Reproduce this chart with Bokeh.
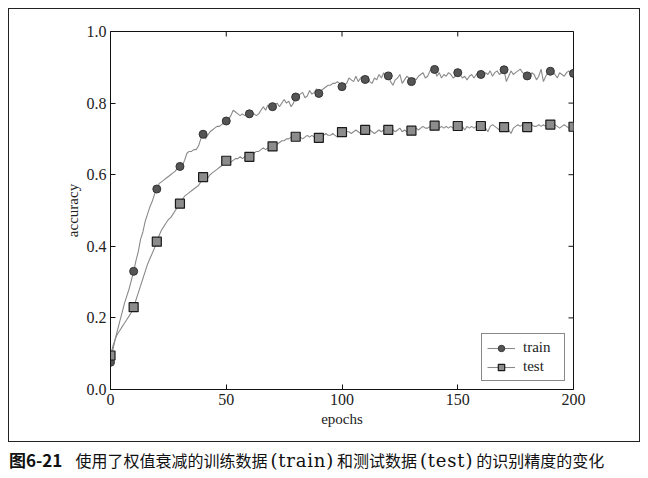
import math
from bokeh.plotting import figure
from bokeh.models import (Range1d, FixedTicker, PrintfTickFormatter,
                          Legend, LegendItem, Div)
from bokeh.layouts import column
from bokeh.embed import file_html
from bokeh.resources import INLINE

# ---------------- data ----------------
epochs = list(range(201))

train_acc = [
    0.076, 0.11, 0.14, 0.165, 0.19, 0.215, 0.24, 0.26, 0.28, 0.305,
    0.330, 0.36, 0.385, 0.42, 0.44, 0.47, 0.49, 0.51, 0.525, 0.545,
    0.560, 0.575, 0.58, 0.585, 0.59, 0.595, 0.60, 0.605, 0.61, 0.62,
    0.623, 0.625, 0.64, 0.66, 0.665, 0.665, 0.67, 0.67, 0.68, 0.70,
    0.713, 0.70, 0.71, 0.72, 0.725, 0.73, 0.735, 0.735, 0.74, 0.745,
    0.750, 0.755, 0.765, 0.78, 0.775, 0.77, 0.765, 0.77, 0.765, 0.77,
    0.770, 0.775, 0.77, 0.765, 0.77, 0.78, 0.79, 0.78, 0.795, 0.785,
    0.790, 0.795, 0.80, 0.79, 0.80, 0.81, 0.80, 0.805, 0.79, 0.80,
    0.817, 0.82, 0.825, 0.83, 0.815, 0.82, 0.835, 0.825, 0.83, 0.84,
    0.827, 0.835, 0.84, 0.845, 0.85, 0.85, 0.855, 0.855, 0.86, 0.855,
    0.846, 0.85, 0.855, 0.87, 0.865, 0.86, 0.875, 0.86, 0.87, 0.875,
    0.866, 0.875, 0.86, 0.855, 0.87, 0.865, 0.88, 0.87, 0.885, 0.87,
    0.876, 0.86, 0.85, 0.865, 0.87, 0.88, 0.855, 0.865, 0.875, 0.87,
    0.860, 0.87, 0.865, 0.875, 0.88, 0.885, 0.87, 0.875, 0.89, 0.895,
    0.894, 0.875, 0.885, 0.87, 0.88, 0.875, 0.885, 0.88, 0.87, 0.875,
    0.885, 0.88, 0.87, 0.875, 0.865, 0.875, 0.88, 0.87, 0.88, 0.885,
    0.880, 0.875, 0.885, 0.88, 0.89, 0.875, 0.885, 0.89, 0.88, 0.885,
    0.893, 0.86, 0.875, 0.89, 0.88, 0.885, 0.89, 0.895, 0.885, 0.88,
    0.876, 0.87, 0.885, 0.88, 0.865, 0.875, 0.895, 0.86, 0.875, 0.885,
    0.889, 0.89, 0.88, 0.87, 0.885, 0.88, 0.875, 0.885, 0.89, 0.88,
    0.883,
]

test_acc = [
    0.095, 0.12, 0.14, 0.155, 0.165, 0.175, 0.185, 0.195, 0.205, 0.215,
    0.230, 0.25, 0.27, 0.29, 0.31, 0.33, 0.35, 0.365, 0.38, 0.395,
    0.413, 0.43, 0.445, 0.455, 0.465, 0.475, 0.48, 0.49, 0.50, 0.51,
    0.519, 0.53, 0.54, 0.545, 0.55, 0.555, 0.56, 0.565, 0.57, 0.58,
    0.593, 0.58, 0.59, 0.60, 0.605, 0.61, 0.615, 0.62, 0.625, 0.635,
    0.639, 0.63, 0.635, 0.64, 0.645, 0.645, 0.65, 0.645, 0.65, 0.655,
    0.650, 0.655, 0.66, 0.665, 0.665, 0.67, 0.675, 0.67, 0.675, 0.68,
    0.679, 0.68, 0.685, 0.69, 0.695, 0.695, 0.70, 0.70, 0.705, 0.70,
    0.706, 0.70, 0.705, 0.70, 0.705, 0.71, 0.705, 0.71, 0.705, 0.70,
    0.703, 0.705, 0.71, 0.715, 0.71, 0.71, 0.715, 0.71, 0.705, 0.715,
    0.719, 0.715, 0.72, 0.72, 0.715, 0.72, 0.725, 0.72, 0.715, 0.72,
    0.725, 0.72, 0.725, 0.72, 0.715, 0.72, 0.725, 0.72, 0.725, 0.72,
    0.725, 0.73, 0.725, 0.72, 0.725, 0.73, 0.72, 0.725, 0.72, 0.725,
    0.723, 0.725, 0.73, 0.725, 0.73, 0.735, 0.73, 0.73, 0.735, 0.73,
    0.737, 0.735, 0.73, 0.735, 0.73, 0.735, 0.73, 0.735, 0.73, 0.735,
    0.736, 0.73, 0.735, 0.725, 0.735, 0.73, 0.735, 0.73, 0.735, 0.73,
    0.736, 0.735, 0.73, 0.72, 0.735, 0.74, 0.735, 0.73, 0.725, 0.735,
    0.733, 0.73, 0.725, 0.715, 0.73, 0.735, 0.74, 0.735, 0.74, 0.735,
    0.733, 0.735, 0.74, 0.735, 0.735, 0.74, 0.735, 0.74, 0.735, 0.74,
    0.740, 0.735, 0.74, 0.735, 0.73, 0.735, 0.74, 0.735, 0.73, 0.735,
    0.734,
]

marker_step = 10
x_min, x_max = 0, 200
y_min, y_max = 0.0, 1.0
x_ticks = [0, 50, 100, 150, 200]
y_ticks = [0.0, 0.2, 0.4, 0.6, 0.8, 1.0]
series_labels = ["train", "test"]
x_label = "epochs"
y_label = "accuracy"
caption_num = "图6-21"
caption_parts = [("cjk", "使用了权值衰减的训练数据"), ("latin", "(train)"),
                 ("cjk", "和测试数据"), ("latin", "(test)"),
                 ("cjk", "的识别精度的变化")]

# ---------------- figure ----------------
SERIF = "Liberation Serif"
INK = "#111111"
p = figure(width=632, height=434, output_backend="svg", toolbar_location=None,
           x_range=Range1d(x_min, x_max), y_range=Range1d(y_min, y_max),
           min_border_left=101, min_border_right=68,
           min_border_top=22, min_border_bottom=54,
           background_fill_color="white", border_fill_color="white")
p.styles = {"border": "1px solid #222"}
p.grid.visible = False
p.outline_line_color = INK
p.outline_line_width = 1

for ax in (p.xaxis[0], p.yaxis[0]):
    ax.major_tick_in = 5
    ax.major_tick_out = 0
    ax.minor_tick_in = 0
    ax.minor_tick_out = 0
    ax.axis_line_color = INK
    ax.major_tick_line_color = INK
    ax.major_label_text_font = SERIF
    ax.major_label_text_font_size = "16px"
    ax.major_label_text_color = "#222222"
    ax.axis_label_text_font = SERIF
    ax.axis_label_text_font_size = "15px"
    ax.axis_label_text_font_style = "normal"
    ax.axis_label_text_color = "#222222"

p.xaxis[0].ticker = FixedTicker(ticks=x_ticks)
p.yaxis[0].ticker = FixedTicker(ticks=y_ticks)
p.yaxis[0].formatter = PrintfTickFormatter(format="%.1f")
p.xaxis[0].axis_label = x_label
p.yaxis[0].axis_label = y_label
p.xaxis[0].major_label_standoff = 4
p.yaxis[0].major_label_standoff = 4
p.xaxis[0].axis_label_standoff = 3
p.yaxis[0].axis_label_standoff = 3

# mirrored inward ticks on top and right (half of each dash is clipped by the frame)
p.scatter(x_ticks, [y_max] * len(x_ticks), marker="dash", size=10, angle=math.pi / 2,
          line_color=INK, line_width=1)
p.scatter([x_max] * len(y_ticks), y_ticks, marker="dash", size=10,
          line_color=INK, line_width=1)

# lines
l_train = p.line(epochs, train_acc, line_color="#8a8a8a", line_width=1.1)
l_test = p.line(epochs, test_acc, line_color="#8a8a8a", line_width=1.1)

# markers every 10 epochs
s_train = p.scatter(epochs[::marker_step], train_acc[::marker_step], marker="circle",
                    size=8, fill_color="#555555", line_color="#333333", line_width=1)
s_test = p.scatter(epochs[::marker_step], test_acc[::marker_step], marker="square",
                   size=9, fill_color="#8c8c8c", line_color="#1a1a1a", line_width=1.2)

legend = Legend(items=[LegendItem(label=series_labels[0], renderers=[l_train, s_train]),
                       LegendItem(label=series_labels[1], renderers=[l_test, s_test])],
                location="bottom_right")
legend.border_line_color = INK
legend.border_line_width = 1
legend.background_fill_color = "white"
legend.margin = 8
legend.padding = 5
legend.spacing = 2
legend.glyph_width = 28
legend.glyph_height = 16
legend.label_height = 16
legend.label_width = 36
legend.label_standoff = 8
legend.label_text_font = SERIF
legend.label_text_font_size = "15px"
legend.label_text_color = "#222222"
p.add_layout(legend)

# ---------------- caption ----------------
CJK = "'Noto Sans CJK SC'"
spans = []
for kind, txt in caption_parts:
    if kind == "cjk":
        spans.append(f"<span style=\"font-family:{CJK};font-size:16px\">{txt}</span>")
    else:
        spans.append("<span style=\"font-family:'DejaVu Serif';font-size:18px;"
                     f"letter-spacing:0.8px;padding:0 3px\">{txt}</span>")
caption_html = (
    "<div style=\"color:#111;white-space:nowrap;margin-left:-4px;margin-top:2px;"
    "line-height:22px\">"
    f"<span style=\"font-family:{CJK};font-weight:bold;font-size:17px\">{caption_num}</span>"
    "<span style=\"display:inline-block;width:13px\"></span>"
    + "".join(spans) + "</div>"
)
cap = Div(text=caption_html, width=632, height=26)

layout = column(p, cap, spacing=0, margin=(8, 0, 0, 8))
open("out.html", "w").write(file_html(layout, INLINE))
